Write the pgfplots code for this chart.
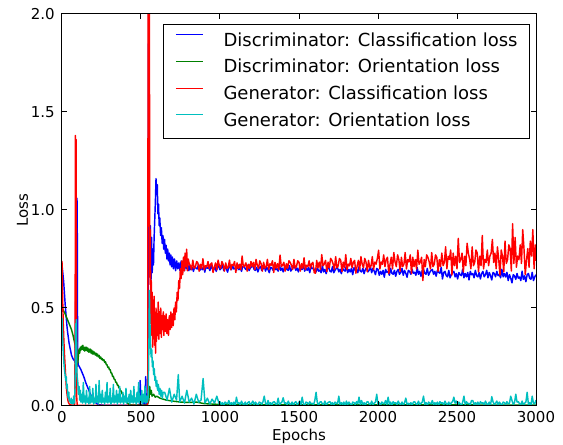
\documentclass[border=0pt]{standalone}
\usepackage{fontspec}
\setmainfont{DejaVu Sans}
\usepackage{pgfplots}
\pgfplotsset{compat=1.18}
\definecolor{mplblue}{RGB}{0,0,255}
\definecolor{mplgreen}{RGB}{0,128,0}
\definecolor{mplred}{RGB}{255,0,0}
\definecolor{mplcyan}{RGB}{0,191,191}

\begin{document}
\begin{tikzpicture}
\begin{axis}[
  scale only axis,
  width=426.6pt, height=352.8pt,
  xmin=0, xmax=3000, ymin=0, ymax=2,
  xtick={0,500,1000,1500,2000,2500,3000},
  ytick={0,0.5,1,1.5,2},
  /pgf/number format/assume math mode=true,
  /pgf/number format/1000 sep={},
  tick label style={font=\fontsize{13.5}{16}\selectfont},
  xticklabel style={inner sep=0pt, anchor=north, yshift=-4.5pt},
  yticklabel style={/pgf/number format/fixed, /pgf/number format/fixed zerofill,
    /pgf/number format/precision=1, inner sep=0pt, anchor=east, xshift=-6.3pt},
  tick align=inside,
  major tick length=4.5pt,
  every tick/.style={black, line width=0.9pt},
  axis line style={black, line width=0.9pt},
  axis on top,
  xlabel={Epochs}, ylabel={Loss},
  label style={font=\fontsize{13.5}{16}\selectfont},
  xlabel style={at={(axis description cs:0.5,-0.0587)}, anchor=north, inner sep=0pt},
  ylabel style={at={(axis description cs:-0.0956,0.5)}, anchor=north, inner sep=0pt},
  every axis plot/.append style={line width=1.3pt, line join=round, mark=none},
  legend cell align=left,
  legend image code/.code={\draw[#1, line width=1.1pt] (0pt,5.9pt) -- (24.3pt,5.9pt);},
  legend style={at={(rel axis cs:1,1)}, anchor=north east, xshift=-5.4pt, yshift=-9pt,
    draw=black, line width=0.9pt, fill=white,
    inner xsep=10.8pt, inner ysep=7.5pt, row sep=8.5pt, column sep=18pt,
    font=\fontsize{16.2}{19}\selectfont,
    nodes={inner sep=0pt, text height=12pt, text depth=3.5pt}},
]

% Discriminator: classification loss
\addplot[mplblue] coordinates {
(0,0.72) (5,0.68) (10,0.64) (15,0.58) (20,0.52) (25,0.47) (30,0.42) (35,0.38) (40,0.35) (45,0.32)
(50,0.30) (55,0.28) (60,0.26) (65,0.25) (70,0.24) (75,0.235) (80,0.23) (84,0.22) (87,0.55) (89,1.17)
(91,0.45) (93,0.21) (95,1.06) (97,0.85) (99,0.24) (103,0.21) (110,0.20) (120,0.185) (130,0.165) (140,0.145)
(150,0.12) (160,0.10) (170,0.08) (180,0.06) (190,0.045) (200,0.03) (210,0.02) (220,0.012) (235,0.006) (260,0.004)
(300,0.003) (400,0.003) (490,0.003) (495,0.13) (498,0.005) (510,0.004) (520,0.04) (524,0.004) (530,0.15) (533,0.01)
(540,0.01) (545,0.05) (548,2.4) (551,0.95) (555,0.70) (559,0.92) (563,0.62) (567,0.86) (571,0.68) (575,0.80)
(579,0.72) (583,0.86) (587,0.95) (591,1.04) (595,1.16) (599,1.08) (603,1.13) (607,0.98) (611,1.03) (615,0.92)
(619,0.96) (624,0.87) (629,0.91) (634,0.83) (639,0.87) (644,0.80) (649,0.85) (654,0.78) (659,0.82) (664,0.75)
(669,0.80) (674,0.74) (679,0.78) (684,0.72) (689,0.77) (694,0.71) (699,0.76) (705,0.70) (712,0.75) (719,0.69)
(726,0.74) (733,0.70) (740,0.73) (747,0.69) (754,0.74) (761,0.70) (768,0.72) (775,0.69) (782,0.73) (789,0.70)
(796,0.72) (803,0.69)
(808,0.715) (816,0.695) (824,0.707) (832,0.687) (840,0.711) (848,0.703) (856,0.699) (864,0.723) (872,0.691) (880,0.707)
(888,0.695) (896,0.711) (904,0.683) (912,0.715) (920,0.703) (928,0.707) (936,0.691) (944,0.719) (952,0.699) (960,0.695)
(968,0.711) (976,0.687) (984,0.707) (992,0.715) (1000,0.695) (1008,0.703) (1016,0.719) (1024,0.691) (1032,0.711) (1040,0.699)
(1048,0.683) (1056,0.711) (1064,0.707) (1072,0.695) (1080,0.715) (1088,0.699) (1096,0.703) (1104,0.691) (1112,0.723) (1120,0.695)
(1128,0.707) (1136,0.687) (1144,0.711) (1152,0.715) (1160,0.699) (1168,0.695) (1176,0.719) (1184,0.691) (1192,0.703) (1200,0.711)
(1208,0.716) (1216,0.696) (1224,0.692) (1232,0.708) (1240,0.684) (1248,0.704) (1256,0.712) (1264,0.692) (1272,0.700) (1280,0.716)
(1288,0.688) (1296,0.708) (1304,0.696) (1312,0.680) (1320,0.708) (1328,0.704) (1336,0.692) (1344,0.712) (1352,0.696) (1360,0.700)
(1368,0.688) (1376,0.720) (1384,0.692) (1392,0.704) (1400,0.684) (1408,0.708) (1416,0.712) (1424,0.696) (1432,0.692) (1440,0.716)
(1448,0.688) (1456,0.700) (1464,0.708) (1472,0.712) (1480,0.692) (1488,0.704) (1496,0.684) (1504,0.708) (1512,0.700) (1520,0.696)
(1528,0.720) (1536,0.688) (1544,0.704) (1552,0.692) (1560,0.708) (1568,0.680) (1576,0.712) (1584,0.700) (1592,0.704) (1600,0.688)
(1608,0.684) (1616,0.706) (1624,0.688) (1632,0.693) (1640,0.680) (1648,0.716) (1656,0.684) (1664,0.697) (1672,0.675) (1680,0.702)
(1688,0.706) (1696,0.688) (1704,0.684) (1712,0.711) (1720,0.680) (1728,0.693) (1736,0.702) (1744,0.706) (1752,0.684) (1760,0.697)
(1768,0.675) (1776,0.702) (1784,0.693) (1792,0.688) (1800,0.716) (1808,0.680) (1816,0.697) (1824,0.684) (1832,0.702) (1840,0.670)
(1848,0.706) (1856,0.693) (1864,0.697) (1872,0.680) (1880,0.711) (1888,0.688) (1896,0.684) (1904,0.702) (1912,0.675) (1920,0.697)
(1928,0.706) (1936,0.684) (1944,0.693) (1952,0.711) (1960,0.680) (1968,0.702) (1976,0.688) (1984,0.670) (1992,0.702) (2000,0.697)
(2008,0.667) (2016,0.687) (2024,0.672) (2032,0.692) (2040,0.657) (2048,0.697) (2056,0.682) (2064,0.687) (2072,0.667) (2080,0.702)
(2088,0.677) (2096,0.672) (2104,0.692) (2112,0.662) (2120,0.687) (2128,0.697) (2136,0.672) (2144,0.682) (2152,0.702) (2160,0.667)
(2168,0.692) (2176,0.677) (2184,0.657) (2192,0.692) (2200,0.687) (2208,0.672) (2216,0.697) (2224,0.677) (2232,0.682) (2240,0.667)
(2248,0.707) (2256,0.672) (2264,0.687) (2272,0.662) (2280,0.692) (2288,0.697) (2296,0.677) (2304,0.672) (2312,0.702) (2320,0.667)
(2328,0.682) (2336,0.692) (2344,0.697) (2352,0.672) (2360,0.687) (2368,0.662) (2376,0.692) (2384,0.682) (2392,0.677) (2400,0.707)
(2408,0.648) (2416,0.681) (2424,0.687) (2432,0.665) (2440,0.659) (2448,0.692) (2456,0.654) (2464,0.670) (2472,0.681) (2480,0.687)
(2488,0.659) (2496,0.676) (2504,0.648) (2512,0.681) (2520,0.670) (2528,0.665) (2536,0.698) (2544,0.654) (2552,0.676) (2560,0.659)
(2568,0.681) (2576,0.643) (2584,0.687) (2592,0.670) (2600,0.676) (2608,0.654) (2616,0.692) (2624,0.665) (2632,0.659) (2640,0.681)
(2648,0.648) (2656,0.676) (2664,0.687) (2672,0.659) (2680,0.670) (2688,0.692) (2696,0.654) (2704,0.681) (2712,0.665) (2720,0.643)
(2728,0.681) (2736,0.676) (2744,0.659) (2752,0.687) (2760,0.665) (2768,0.670) (2776,0.654) (2784,0.698) (2792,0.659) (2800,0.676)
(2808,0.658) (2816,0.682) (2824,0.640) (2832,0.670) (2840,0.652) (2848,0.628) (2856,0.670) (2864,0.664) (2872,0.646) (2880,0.676)
(2888,0.652) (2896,0.658) (2904,0.640) (2912,0.688) (2920,0.646) (2928,0.664) (2936,0.634) (2944,0.670) (2952,0.676) (2960,0.652)
(2968,0.646) (2976,0.682) (2984,0.640) (2992,0.658) (3000,0.670)
};
\addlegendentry{Discriminator: Classification loss}

% Discriminator: orientation loss
\addplot[mplgreen] coordinates {
(0,0.50) (10,0.485) (20,0.47) (30,0.45) (40,0.43) (50,0.41) (60,0.39) (70,0.36) (78,0.33) (84,0.31)
(88,0.27) (91,0.33) (94,0.20) (97,0.24) (100,0.22) (104,0.26) (108,0.29) (112,0.27) (116,0.30) (120,0.285)
(124,0.305) (128,0.29) (132,0.31) (136,0.285) (140,0.30) (144,0.28) (148,0.30) (152,0.285) (156,0.30) (160,0.28)
(164,0.295) (168,0.275) (172,0.29) (176,0.275) (180,0.29) (184,0.27) (188,0.285) (192,0.265) (196,0.28) (200,0.265)
(205,0.275) (210,0.26) (215,0.27) (220,0.255) (225,0.265) (230,0.25) (235,0.258) (240,0.243) (245,0.25) (250,0.237)
(255,0.242) (260,0.232) (265,0.236) (270,0.222) (275,0.226) (280,0.212) (285,0.21) (290,0.197) (295,0.199) (300,0.186)
(305,0.185) (310,0.169) (315,0.168) (320,0.151) (325,0.152) (330,0.137) (335,0.136) (340,0.121) (345,0.121) (350,0.107)
(355,0.106) (360,0.092) (365,0.091) (370,0.077) (375,0.076) (380,0.062) (385,0.061) (390,0.047) (395,0.045) (400,0.033)
(405,0.029) (410,0.02) (415,0.014) (420,0.01) (430,0.007) (440,0.005) (540,0.005) (550,0.03) (555,0.10) (560,0.06)
(565,0.08) (570,0.05) (580,0.06) (590,0.045) (600,0.05) (620,0.04) (640,0.035) (660,0.03) (700,0.025) (750,0.02)
(800,0.018) (850,0.02) (900,0.012) (1000,0.008) (1200,0.006) (3000,0.005)
};
\addlegendentry{Discriminator: Orientation loss}

% Generator: classification loss
\addplot[mplred] coordinates {
(0,0.74) (4,0.55) (8,0.42) (12,0.33) (16,0.26) (20,0.20) (24,0.14) (28,0.09) (32,0.06) (36,0.035)
(40,0.02) (45,0.012) (50,0.008) (60,0.005) (80,0.004) (83,0.30) (85,1.38) (87,1.05) (89,1.36) (91,0.70)
(93,0.05) (96,0.005) (100,0.003) (300,0.003) (540,0.003) (543,0.02) (545,2.4) (547,1.1) (549,2.5) (551,1.4)
(553,2.2) (555,0.95) (557,0.62) (559,0.90) (562,0.42) (565,0.64) (568,0.36) (571,0.58) (574,0.30) (577,0.52)
(580,0.36) (583,0.56) (586,0.31) (589,0.47) (592,0.27) (595,0.50) (598,0.33) (601,0.47) (605,0.36) (609,0.53)
(613,0.34) (617,0.48) (621,0.37) (625,0.50) (629,0.35) (633,0.46) (637,0.39) (641,0.48) (645,0.36) (649,0.46)
(654,0.38) (659,0.47) (664,0.37) (669,0.44) (674,0.36) (679,0.46) (684,0.39) (689,0.48) (694,0.40) (699,0.47)
(704,0.41) (709,0.50) (714,0.44) (719,0.53) (724,0.48) (729,0.58) (734,0.54) (739,0.64) (744,0.60) (749,0.70)
(754,0.65) (759,0.74) (764,0.67) (769,0.76) (774,0.69) (779,0.78) (784,0.71) (789,0.80) (794,0.69) (799,0.75)
(804,0.730) (812,0.716) (820,0.695) (828,0.744) (836,0.702) (844,0.709) (852,0.737) (860,0.730) (868,0.688) (876,0.723)
(884,0.702) (892,0.751) (900,0.695) (908,0.716) (916,0.709) (924,0.737) (932,0.702) (940,0.723) (948,0.730) (956,0.681)
(964,0.709) (972,0.730) (980,0.695) (988,0.744) (996,0.716) (1004,0.702) (1012,0.737) (1020,0.723) (1028,0.688) (1036,0.730)
(1044,0.702) (1052,0.709) (1060,0.744) (1068,0.695) (1076,0.723) (1084,0.716) (1092,0.737) (1100,0.681) (1108,0.730) (1116,0.702)
(1124,0.723) (1132,0.695) (1140,0.765) (1148,0.709) (1156,0.716) (1164,0.730) (1172,0.688) (1180,0.723) (1188,0.702) (1196,0.737)
(1204,0.711) (1212,0.733) (1220,0.696) (1228,0.748) (1236,0.718) (1244,0.703) (1252,0.741) (1260,0.726) (1268,0.688) (1276,0.733)
(1284,0.703) (1292,0.711) (1300,0.748) (1308,0.696) (1316,0.726) (1324,0.718) (1332,0.741) (1340,0.681) (1348,0.733) (1356,0.703)
(1364,0.726) (1372,0.696) (1380,0.770) (1388,0.711) (1396,0.718) (1404,0.733) (1412,0.688) (1420,0.726) (1428,0.703) (1436,0.741)
(1444,0.733) (1452,0.718) (1460,0.696) (1468,0.748) (1476,0.703) (1484,0.711) (1492,0.741) (1500,0.733) (1508,0.688) (1516,0.726)
(1524,0.703) (1532,0.756) (1540,0.696) (1548,0.718) (1556,0.711) (1564,0.741) (1572,0.703) (1580,0.726) (1588,0.733) (1596,0.681)
(1604,0.677) (1612,0.743) (1620,0.705) (1628,0.734) (1636,0.696) (1644,0.772) (1652,0.715) (1660,0.724) (1668,0.743) (1676,0.686)
(1684,0.734) (1692,0.705) (1700,0.753) (1708,0.743) (1716,0.724) (1724,0.696) (1732,0.762) (1740,0.705) (1748,0.715) (1756,0.753)
(1764,0.743) (1772,0.686) (1780,0.734) (1788,0.705) (1796,0.772) (1804,0.696) (1812,0.724) (1820,0.715) (1828,0.753) (1836,0.705)
(1844,0.734) (1852,0.743) (1860,0.677) (1868,0.715) (1876,0.743) (1884,0.696) (1892,0.762) (1900,0.724) (1908,0.705) (1916,0.753)
(1924,0.734) (1932,0.686) (1940,0.743) (1948,0.705) (1956,0.715) (1964,0.762) (1972,0.696) (1980,0.734) (1988,0.724) (1996,0.753)
(2004,0.795) (2012,0.699) (2020,0.735) (2028,0.723) (2036,0.771) (2044,0.711) (2052,0.747) (2060,0.759) (2068,0.675) (2076,0.723)
(2084,0.759) (2092,0.699) (2100,0.783) (2108,0.735) (2116,0.711) (2124,0.771) (2132,0.747) (2140,0.687) (2148,0.759) (2156,0.711)
(2164,0.723) (2172,0.783) (2180,0.699) (2188,0.747) (2196,0.735) (2204,0.771) (2212,0.675) (2220,0.759) (2228,0.711) (2236,0.747)
(2244,0.699) (2252,0.795) (2260,0.723) (2268,0.735) (2276,0.759) (2284,0.640) (2292,0.747) (2300,0.711) (2308,0.771) (2316,0.759)
(2324,0.735) (2332,0.699) (2340,0.783) (2348,0.711) (2356,0.723) (2364,0.771) (2372,0.759) (2380,0.687) (2388,0.747) (2396,0.711)
(2404,0.780) (2412,0.716) (2420,0.732) (2428,0.812) (2436,0.700) (2444,0.764) (2452,0.748) (2460,0.796) (2468,0.668) (2476,0.780)
(2484,0.716) (2492,0.764) (2500,0.700) (2508,0.855) (2516,0.732) (2524,0.748) (2532,0.780) (2540,0.684) (2548,0.764) (2556,0.716)
(2564,0.830) (2572,0.780) (2580,0.748) (2588,0.700) (2596,0.812) (2604,0.716) (2612,0.732) (2620,0.796) (2628,0.780) (2636,0.684)
(2644,0.764) (2652,0.716) (2660,0.870) (2668,0.700) (2676,0.748) (2684,0.732) (2692,0.796) (2700,0.716) (2708,0.764) (2716,0.780)
(2724,0.850) (2732,0.732) (2740,0.780) (2748,0.700) (2756,0.812) (2764,0.748) (2772,0.668) (2780,0.796) (2788,0.764) (2796,0.684)
(2804,0.841) (2812,0.727) (2820,0.746) (2828,0.822) (2836,0.803) (2844,0.689) (2852,0.930) (2860,0.727) (2868,0.860) (2876,0.708)
(2884,0.765) (2892,0.746) (2900,0.822) (2908,0.727) (2916,0.900) (2924,0.803) (2932,0.670) (2940,0.746) (2948,0.803) (2956,0.708)
(2964,0.841) (2972,0.765) (2980,0.900) (2988,0.700) (2996,0.822) (3000,0.740)
};
\addlegendentry{Generator: Classification loss}

% Generator: orientation loss
\addplot[mplcyan] coordinates {
(0,0.45) (3,0.38) (6,0.31) (9,0.26) (12,0.22) (15,0.19) (18,0.17) (21,0.15) (24,0.13) (27,0.15)
(30,0.09) (33,0.11) (36,0.06) (40,0.04) (43,0.07) (46,0.025) (50,0.03) (54,0.015) (58,0.04) (62,0.012)
(66,0.03) (70,0.01) (74,0.05) (78,0.015) (82,0.08) (85,0.22) (87,0.42) (89,0.30) (91,0.44) (93,0.20)
(96,0.15) (100,0.12) (104,0.06) (108,0.10) (112,0.03) (116,0.08) (120,0.02) (125,0.06) (130,0.015) (135,0.12)
(140,0.02) (145,0.05) (150,0.01) (155,0.08) (160,0.02) (165,0.04) (170,0.01) (175,0.10) (180,0.015) (185,0.05)
(190,0.02) (195,0.09) (200,0.01) (205,0.04) (210,0.015) (215,0.11) (220,0.02) (225,0.05) (230,0.01) (235,0.13)
(240,0.02) (245,0.06) (250,0.015) (255,0.08) (260,0.02) (265,0.04) (270,0.01) (275,0.07) (280,0.02) (285,0.12)
(290,0.015) (295,0.05) (300,0.02) (305,0.09) (310,0.01) (315,0.04) (320,0.02) (325,0.11) (330,0.015) (335,0.05)
(340,0.02) (345,0.08) (350,0.01) (355,0.06) (360,0.02) (365,0.10) (370,0.015) (375,0.04) (380,0.02) (385,0.07)
(390,0.01) (395,0.05) (400,0.02) (405,0.09) (410,0.015) (415,0.04) (420,0.02) (425,0.06) (430,0.01) (435,0.08)
(440,0.02) (445,0.05) (450,0.015) (455,0.10) (460,0.02) (465,0.04) (470,0.01) (475,0.07) (480,0.02) (485,0.12)
(490,0.015) (495,0.05) (500,0.02) (505,0.08) (510,0.01) (515,0.06) (520,0.02) (525,0.10) (530,0.015) (535,0.05)
(540,0.02) (545,0.04) (550,0.30) (553,0.59) (556,0.45) (560,0.32) (564,0.25) (568,0.29) (572,0.20) (576,0.23)
(580,0.16) (584,0.19) (588,0.13) (592,0.15) (596,0.10) (600,0.13) (605,0.08) (610,0.11) (615,0.06) (620,0.09)
(625,0.05) (630,0.08) (635,0.04) (640,0.07)
(650,0.07) (665,0.03) (680,0.09) (695,0.02) (710,0.06) (725,0.03) (736,0.16) (745,0.02) (760,0.05) (775,0.015)
(790,0.08) (805,0.02) (820,0.04) (835,0.01) (850,0.06) (865,0.02) (880,0.03) (893,0.14) (905,0.015) (920,0.04)
(935,0.01) (950,0.035) (965,0.015) (980,0.05) (995,0.01)
(1000,0.022) (1008,0.008) (1016,0.017) (1024,0.003) (1032,0.020) (1040,0.014) (1048,0.011) (1056,0.028) (1064,0.006) (1072,0.017)
(1080,0.008) (1088,0.020) (1096,0.002) (1104,0.045) (1112,0.014) (1120,0.017) (1128,0.006) (1136,0.025) (1144,0.011) (1152,0.008)
(1160,0.020) (1168,0.003) (1176,0.017) (1184,0.022) (1192,0.008) (1200,0.014) (1208,0.025) (1216,0.006) (1224,0.020) (1232,0.011)
(1240,0.002) (1248,0.020) (1256,0.017) (1264,0.008) (1272,0.022) (1280,0.050) (1288,0.014) (1296,0.006) (1304,0.028) (1312,0.008)
(1320,0.017) (1328,0.003) (1336,0.020) (1344,0.022) (1352,0.011) (1360,0.008) (1368,0.040) (1376,0.006) (1384,0.014) (1392,0.020)
(1400,0.042) (1408,0.014) (1416,0.017) (1424,0.006) (1432,0.025) (1440,0.011) (1448,0.008) (1456,0.020) (1464,0.003) (1472,0.017)
(1480,0.022) (1488,0.008) (1496,0.014) (1504,0.025) (1512,0.006) (1520,0.045) (1528,0.011) (1536,0.002) (1544,0.020) (1552,0.017)
(1560,0.008) (1568,0.022) (1576,0.011) (1584,0.014) (1592,0.006) (1600,0.028) (1608,0.070) (1616,0.017) (1624,0.003) (1632,0.020)
(1640,0.022) (1648,0.011) (1656,0.008) (1664,0.025) (1672,0.006) (1680,0.014) (1688,0.020) (1696,0.022) (1704,0.008) (1712,0.017)
(1720,0.003) (1728,0.020) (1736,0.014) (1744,0.011) (1752,0.050) (1760,0.006) (1768,0.017) (1776,0.008) (1784,0.020) (1792,0.002)
(1800,0.025) (1808,0.006) (1816,0.020) (1824,0.011) (1832,0.002) (1840,0.020) (1848,0.017) (1856,0.008) (1864,0.022) (1872,0.011)
(1880,0.045) (1888,0.006) (1896,0.028) (1904,0.008) (1912,0.017) (1920,0.003) (1928,0.020) (1936,0.022) (1944,0.011) (1952,0.008)
(1960,0.025) (1968,0.006) (1976,0.014) (1984,0.020) (1992,0.060) (2000,0.008) (2008,0.017) (2016,0.003) (2024,0.020) (2032,0.014)
(2040,0.011) (2048,0.028) (2056,0.006) (2064,0.045) (2072,0.008) (2080,0.020) (2088,0.002) (2096,0.022) (2104,0.014) (2112,0.017)
(2120,0.006) (2128,0.025) (2136,0.011) (2144,0.008) (2152,0.020) (2160,0.003) (2168,0.017) (2176,0.040) (2184,0.008) (2192,0.014)
(2200,0.008) (2208,0.017) (2216,0.003) (2224,0.020) (2232,0.022) (2240,0.011) (2248,0.008) (2256,0.025) (2264,0.006) (2272,0.014)
(2280,0.020) (2288,0.050) (2296,0.008) (2304,0.017) (2312,0.003) (2320,0.020) (2328,0.014) (2336,0.011) (2344,0.028) (2352,0.006)
(2360,0.017) (2368,0.008) (2376,0.020) (2384,0.002) (2392,0.022) (2400,0.014) (2408,0.017) (2416,0.006) (2424,0.025) (2432,0.011)
(2440,0.008) (2448,0.020) (2456,0.003) (2464,0.017) (2472,0.022) (2480,0.045) (2488,0.014) (2496,0.025) (2504,0.006) (2512,0.020)
(2520,0.011) (2528,0.002) (2536,0.020) (2544,0.050) (2552,0.008) (2560,0.022) (2568,0.011) (2576,0.014) (2584,0.006) (2592,0.028)
(2600,0.028) (2608,0.006) (2616,0.017) (2624,0.008) (2632,0.020) (2640,0.002) (2648,0.022) (2656,0.014) (2664,0.017) (2672,0.006)
(2680,0.025) (2688,0.011) (2696,0.008) (2704,0.020) (2712,0.003) (2720,0.048) (2728,0.022) (2736,0.008) (2744,0.014) (2752,0.025)
(2760,0.006) (2768,0.020) (2776,0.011) (2784,0.002) (2792,0.020) (2800,0.017) (2808,0.008) (2816,0.022) (2824,0.011) (2832,0.014)
(2840,0.050) (2848,0.028) (2856,0.008) (2864,0.017) (2872,0.060) (2880,0.020) (2888,0.022) (2896,0.011) (2904,0.008) (2912,0.025)
(2920,0.006) (2928,0.014) (2936,0.020) (2944,0.070) (2952,0.008) (2960,0.017) (2968,0.003) (2976,0.050) (2984,0.014) (2992,0.011)
(3000,0.030)
};
\addlegendentry{Generator: Orientation loss}

\end{axis}
\pgfresetboundingbox
\path[use as bounding box] ([shift={(-55.8pt,-35.1pt)}]current axis.south west) rectangle ([shift={(24.3pt,12.6pt)}]current axis.north east);
\end{tikzpicture}
\end{document}
